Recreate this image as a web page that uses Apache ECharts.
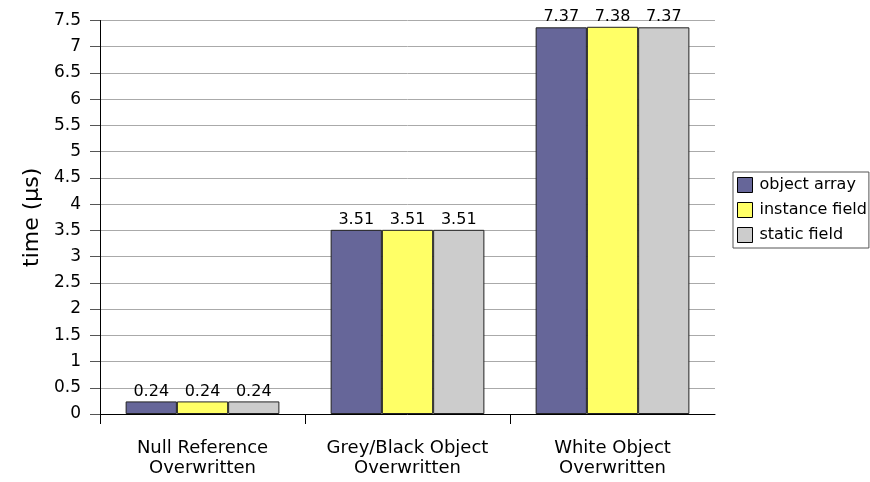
<!DOCTYPE html>
<html>
<head>
<meta charset="utf-8">
<script src="https://cdn.jsdelivr.net/npm/echarts@6/dist/echarts.min.js"></script>
<style>
  html, body { margin: 0; padding: 0; background: #fff; }
  #chart { width: 870px; height: 482px; }
</style>
</head>
<body>
<div id="chart"></div>
<script>
// Write-barrier timing per store target
const categories = ['Null Reference\nOverwritten', 'Grey/Black Object\nOverwritten', 'White Object\nOverwritten'];
const seriesNames = ['object array', 'instance field', 'static field'];
const objectArray = [0.24, 3.51, 7.37];
const instanceField = [0.24, 3.51, 7.38];
const staticField = [0.24, 3.51, 7.37];
const colors = ['#666699', '#ffff66', '#cccccc'];

const FONT = 'DejaVu Sans';
const chart = echarts.init(document.getElementById('chart'), null, { renderer: 'canvas' });

function barSeries(name, data, color) {
  return {
    name: name,
    type: 'bar',
    xAxisIndex: 0,
    data: data,
    barGap: '0%',
    barCategoryGap: '25%',
    itemStyle: { color: color, borderColor: '#222', borderWidth: 1 },
    label: {
      show: true,
      position: 'top',
      distance: 2,
      color: '#000',
      fontFamily: FONT,
      fontSize: 16,
      formatter: p => p.value.toFixed(2)
    }
  };
}

chart.setOption({
  animation: false,
  backgroundColor: '#fff',
  grid: { left: 100, right: 155, top: 20.5, bottom: 68, containLabel: false },
  legend: {
    orient: 'vertical',
    left: 733,
    top: 172,
    data: seriesNames,
    icon: 'rect',
    itemWidth: 15,
    itemHeight: 15,
    itemGap: 9,
    padding: [5, 2, 5, 4],
    borderColor: '#555',
    borderWidth: 1,
    itemStyle: { borderColor: '#000', borderWidth: 1 },
    textStyle: { fontFamily: FONT, fontSize: 16, color: '#000', padding: [0, 0, 0, 2] }
  },
  xAxis: [{
    type: 'category',
    data: categories,
    axisLine: { lineStyle: { color: '#000', width: 1 } },
    axisTick: { show: false },
    axisLabel: {
      interval: 0,
      hideOverlap: false,
      fontFamily: FONT,
      fontSize: 18,
      color: '#000',
      lineHeight: 20,
      margin: 24
    }
  }, {
    type: 'value',
    min: 0,
    max: 3,
    interval: 1,
    position: 'bottom',
    axisLine: { show: false },
    splitLine: { show: false },
    axisLabel: { show: false },
    axisTick: {
      show: true,
      length: 10,
      customValues: [0, 1, 2],
      lineStyle: { color: '#000', width: 1 }
    }
  }],
  yAxis: {
    type: 'value',
    min: 0,
    max: 7.5,
    interval: 0.5,
    name: 'time (µs)',
    nameLocation: 'middle',
    nameGap: 57,
    nameTextStyle: { fontFamily: FONT, fontSize: 22, color: '#000' },
    axisLine: { show: true, lineStyle: { color: '#000', width: 1 } },
    axisTick: { show: true, length: 10, lineStyle: { color: '#555' } },
    axisLabel: { fontFamily: FONT, fontSize: 17, color: '#000', margin: 19 },
    splitLine: { show: true, lineStyle: { color: '#aaa', width: 1 } }
  },
  series: [
    barSeries(seriesNames[0], objectArray, colors[0]),
    barSeries(seriesNames[1], instanceField, colors[1]),
    barSeries(seriesNames[2], staticField, colors[2])
  ]
});
</script>
</body>
</html>
